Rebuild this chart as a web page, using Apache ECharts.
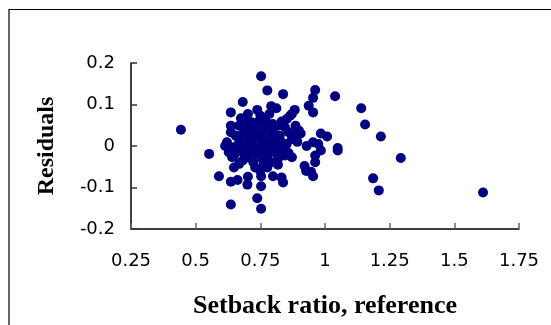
<!DOCTYPE html>
<html>
<head>
<meta charset="utf-8">
<script src="https://cdn.jsdelivr.net/npm/echarts@6/dist/echarts.min.js"></script>
<style>
  html, body { margin: 0; padding: 0; background: #fff; }
  #chart { width: 551px; height: 325px; }
</style>
</head>
<body>
<div id="chart"></div>
<script>
// setback ratio (x) vs residuals (y)
var setbackRatio = [
  0.443, 0.552, 0.590, 0.636, 0.636, 0.662, 0.753, 0.777, 0.838, 0.682,
  0.636, 0.738, 0.792, 0.812, 0.785, 0.883, 0.872, 0.962, 0.954, 0.937,
  0.954, 1.039, 1.140, 1.155, 1.216, 1.293, 1.186, 1.208, 1.611, 0.738,
  0.753, 0.753, 0.700, 0.702, 0.753, 0.799, 0.838, 0.832, 0.921, 0.927,
  0.946, 0.954, 0.962, 0.962, 0.984, 1.049, 1.049, 1.008, 0.984, 0.906,
  0.893, 0.929, 0.954, 0.974, 0.872, 0.859, 0.636, 0.636, 0.621, 0.614,
  0.628, 0.648, 0.648, 0.668, 0.682,
  0.675, 0.696, 0.716, 0.736, 0.696, 0.723, 0.682, 0.709, 0.736, 0.757,
  0.777, 0.798, 0.818, 0.832, 0.852, 0.865, 0.845, 0.859, 0.825, 0.804,
  0.832, 0.791, 0.770, 0.750, 0.723, 0.696, 0.668, 0.655, 0.662, 0.682,
  0.709, 0.736, 0.757, 0.777, 0.804, 0.825, 0.845, 0.818, 0.791, 0.763,
  0.730, 0.723, 0.702, 0.818, 0.852, 0.879, 0.886, 0.757, 0.770, 0.750,
  0.702, 0.723, 0.777, 0.811, 0.838, 0.750, 0.696, 0.641, 0.641, 0.716,
  0.791, 0.872, 0.899, 0.777, 0.750, 0.743, 0.798, 0.696, 0.668
];
var residuals = [
  0.039, -0.019, -0.073, -0.141, -0.086, -0.082, 0.168, 0.134, 0.125, 0.106,
  0.081, 0.087, 0.096, 0.091, 0.077, 0.087, 0.077, 0.135, 0.116, 0.097,
  0.081, 0.120, 0.091, 0.052, 0.023, -0.029, -0.078, -0.107, -0.112, -0.126,
  -0.151, -0.097, -0.093, -0.074, -0.073, -0.073, -0.088, -0.076, -0.048, -0.060,
  -0.062, -0.073, -0.039, -0.023, -0.011, -0.005, -0.011, 0.023, 0.030, 0.030,
  0.010, 0.000, 0.009, 0.005, -0.027, -0.017, 0.049, 0.033, 0.009, 0.000,
  -0.015, -0.023, -0.052, -0.043, -0.035,
  0.067, 0.065, 0.057, 0.056, 0.045, 0.037, 0.029, 0.021, 0.029, 0.017,
  0.045, 0.033, 0.049, 0.059, 0.065, 0.073, 0.045, 0.033, 0.025, 0.017,
  0.009, 0.001, -0.007, 0.001, 0.001, 0.009, 0.009, 0.025, -0.007, -0.015,
  -0.011, -0.019, -0.030, -0.023, -0.015, -0.006, -0.023, -0.031, -0.039, -0.043,
  -0.052, -0.039, -0.027, -0.045, 0.005, 0.029, 0.049, 0.033, 0.061, 0.073,
  0.077, 0.017, 0.009, 0.001, -0.011, -0.015, -0.003, -0.003, -0.027, 0.049,
  0.025, 0.017, 0.037, -0.052, -0.060, 0.053, 0.053, 0.033, 0.049
];
var xTitle = 'Setback ratio, reference';
var yTitle = 'Residuals';

var points = [];
for (var i = 0; i < setbackRatio.length; i++) {
  points.push([setbackRatio[i], residuals[i]]);
}

var chart = echarts.init(document.getElementById('chart'), null, { renderer: 'canvas' });

var tickFont = { fontFamily: 'DejaVu Sans', fontSize: 18, color: '#000' };

chart.setOption({
  animation: false,
  backgroundColor: '#fff',
  graphic: [{
    type: 'rect',
    shape: { x: 9, y: 9.5, width: 700, height: 500 },
    style: { fill: 'none', stroke: '#000', lineWidth: 1.2 }
  }],
  grid: { left: 131, right: 32, top: 63, bottom: 96 },
  xAxis: {
    type: 'value',
    min: 0.25, max: 1.75, interval: 0.25,
    name: xTitle,
    nameLocation: 'middle',
    nameGap: 64,
    nameTextStyle: { fontFamily: 'Liberation Serif', fontWeight: 'bold', fontSize: 26, color: '#000' },
    axisLine: { show: true, onZero: false, lineStyle: { color: '#000', width: 1.5 } },
    axisTick: { show: true, inside: true, length: 6, lineStyle: { color: '#666', width: 1.5 } },
    axisLabel: Object.assign({ margin: 23 }, tickFont),
    splitLine: { show: false }
  },
  yAxis: {
    type: 'value',
    min: -0.2, max: 0.2, interval: 0.1,
    name: yTitle,
    nameLocation: 'middle',
    nameGap: 72,
    nameTextStyle: { fontFamily: 'Liberation Serif', fontWeight: 'bold', fontSize: 24, color: '#000' },
    axisLine: { show: true, lineStyle: { color: '#000', width: 1.5 } },
    axisTick: { show: true, inside: true, length: 6, lineStyle: { color: '#333', width: 1.5 } },
    axisLabel: Object.assign({ margin: 16 }, tickFont),
    splitLine: { show: false }
  },
  series: [{
    type: 'scatter',
    data: points,
    symbol: 'circle',
    symbolSize: 10,
    itemStyle: { color: '#000080', opacity: 1 }
  }]
});
</script>
</body>
</html>
